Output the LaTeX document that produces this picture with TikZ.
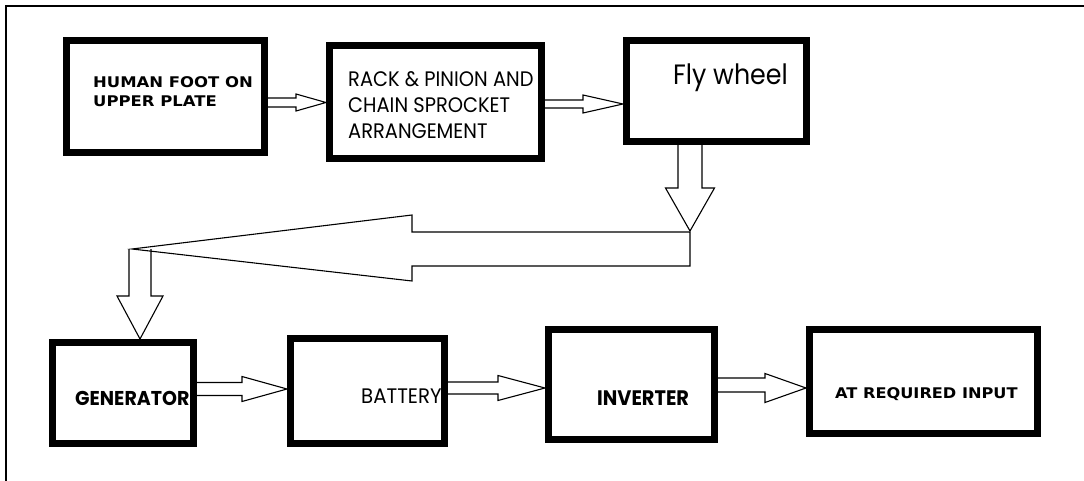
\documentclass[tikz,border=0pt]{standalone}
\usepackage{fontspec}
\setmainfont{Poppins}
\newfontfamily\heavyfont{DejaVu Sans}
\usetikzlibrary{calc}
\tikzset{
  box/.style={draw, rectangle, line width=7pt, inner sep=0pt, outer sep=3.5pt},
  txt/.style={inner sep=0pt, align=left},
  blk/.style={draw, line width=1.1pt, line join=miter},
  frameline/.style={draw, line width=1.4pt}
}
% horizontal block arrow: #1 start, #2 tip, #3 shaft half, #4 head half, #5 head length
\newcommand\hblock[5]{%
  \draw[blk] let \p1=(#1), \p2=(#2) in
    (\x1,\y1+#3pt) -- (\x2-#5pt,\y1+#3pt) -- (\x2-#5pt,\y2+#4pt) -- (\x2,\y2)
    -- (\x2-#5pt,\y2-#4pt) -- (\x2-#5pt,\y1-#3pt) -- (\x1,\y1-#3pt);}
% vertical (downward) block arrow
\newcommand\vblock[5]{%
  \draw[blk] let \p1=(#1), \p2=(#2) in
    (\x1-#3pt,\y1) -- (\x1-#3pt,\y2+#5pt) -- (\x2-#4pt,\y2+#5pt) -- (\x2,\y2)
    -- (\x2+#4pt,\y2+#5pt) -- (\x1+#3pt,\y2+#5pt) -- (\x1+#3pt,\y1);}
\newcommand\hsc[2]{\scalebox{#1}[1]{#2}}
\begin{document}
\begin{tikzpicture}[x=1pt,y=-1pt]
\useasboundingbox (0,0) rectangle (1084,481);
\fill[white] (0,0) rectangle (1084,481);
\draw[frameline] (6,481) -- (6,6) -- (1084,6);

% boxes
\node[box, minimum width=198pt, minimum height=112pt] (b1) at (165.5,96.5) {};
\node[box, minimum width=212pt, minimum height=113pt] (b2) at (435.5,102) {};
\node[box, minimum width=180pt, minimum height=101pt] (b3) at (716.5,91) {};
\node[box, minimum width=141pt, minimum height=101pt] (gen) at (123,393) {};
\node[box, minimum width=154pt, minimum height=105pt] (bat) at (367.5,391) {};
\node[box, minimum width=166pt, minimum height=110pt] (inv) at (631.5,384.5) {};
\node[box, minimum width=228pt, minimum height=104pt] (req) at (923.5,381.5) {};

% texts
\node[txt, anchor=north west, font=\heavyfont\bfseries\fontsize{14.7}{19}\selectfont] (t1) at (93,76.5)
  {\hsc{1.12}{HUMAN FOOT ON}\\\hsc{1.12}{UPPER PLATE}};
\node[txt, anchor=north west, font=\fontsize{21}{26}\selectfont] (t2) at (348,71)
  {\hsc{0.925}{RACK \& PINION AND}\\\hsc{0.925}{CHAIN SPROCKET}\\\hsc{0.925}{ARRANGEMENT}};
\node[txt, anchor=base west, font=\fontsize{28}{32}\selectfont] (t3) at (673,85) {\hsc{0.905}{Fly wheel}};
\node[txt, anchor=base west, font=\bfseries\fontsize{20}{24}\selectfont] (t4) at (75,405) {\hsc{0.95}{GENERATOR}};
\node[txt, anchor=base west, font=\fontsize{21}{24}\selectfont] (t5) at (361,403) {\hsc{0.94}{BATTERY}};
\node[txt, anchor=base west, font=\bfseries\fontsize{21}{24}\selectfont] (t6) at (597,405) {\hsc{0.92}{INVERTER}};
\node[txt, anchor=base west, font=\heavyfont\bfseries\fontsize{14.7}{18}\selectfont] (t7) at (835,398)
  {\hsc{1.1}{AT REQUIRED INPUT}};

% helper coordinates
\coordinate (y102) at (0,102.5);
\coordinate (y104) at (0,104);
\coordinate (y389) at (0,389);
\coordinate (y388) at (0,388);
\coordinate (y385) at (0,385);
\coordinate (x690) at (690,0);
\coordinate (j1) at (690,249);
\coordinate (j1top) at (690,231);
\coordinate (j2) at (132,249);
\coordinate (x140) at (140,0);

% top row arrows
\hblock{b1.east |- y102}{b2.west |- y102}{4.5}{8.5}{30}
\hblock{b2.east |- y104}{b3.west |- y104}{4}{9}{40}
% flywheel down arrow
\vblock{b3.south -| x690}{j1top}{12}{24.5}{43}
% big left arrow
\draw[blk] (j1) ++(0,-17) -- (412,232) -- (412,215) -- (j2) -- (412,281) -- (412,266) -- ($(j1)+(0,17)$) -- cycle;
% small down arrow
\vblock{j2 -| x140}{gen.north -| x140}{11}{23}{43}
% bottom row arrows
\hblock{gen.east |- y389}{bat.west |- y389}{6.5}{12.5}{45}
\hblock{bat.east |- y388}{inv.west |- y388}{6}{12.5}{47}
\hblock{inv.east |- y385}{req.west |- y388}{7}{14.5}{41}
\end{tikzpicture}
\end{document}
